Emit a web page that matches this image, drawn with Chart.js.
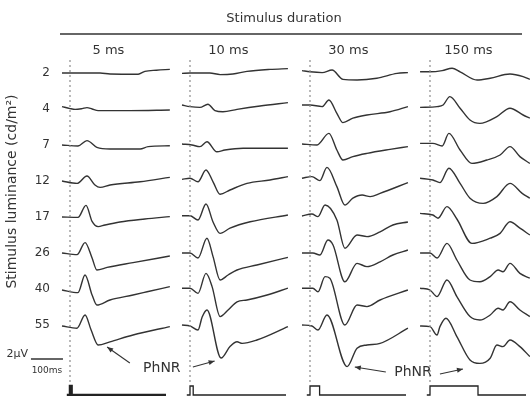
<!DOCTYPE html>
<html>
<head>
<meta charset="utf-8">
<title>ERG vs stimulus duration</title>
<script src="https://cdn.jsdelivr.net/npm/chart.js@4.4.1/dist/chart.umd.min.js"></script>
<style>
  html, body { margin: 0; padding: 0; background: #fff; }
  #wrap { width: 530px; height: 396px; }
</style>
</head>
<body>
<div id="wrap"><canvas id="erg"></canvas></div>
<script>
// columns: stimulus duration, rows: stimulus luminance (cd/m2)
const durations = ['5 ms', '10 ms', '30 ms', '150 ms'];
const durationMs = [5, 10, 30, 150];
const luminance = ['2', '4', '7', '12', '17', '26', '40', '55'];

// each trace is [time ms from flash onset, amplitude µV], one trace per luminance
const erg5ms = [
  [[-25,0],[94,0],[125,-0.25],[213,-0.3],[234,0.4],[270,0.7],[312,0.9]],
  [[-25,0.6],[0,0.1],[16,-0.1],[38,0.1],[53,0.35],[69,0],[88,-0.4],[188,-0.4],[312,-0.25]],
  [[-25,0],[25,-0.25],[53,1.1],[84,-0.6],[125,-1],[219,-1],[244,-0.4],[312,-0.2]],
  [[-25,0],[22,-0.6],[53,1.25],[78,-1],[94,-1.6],[125,-1],[219,-0.2],[312,0.9]],
  [[-25,0],[25,-0.1],[50,2.9],[69,-1.1],[88,-2.4],[109,-2],[156,-1.25],[234,-0.5],[312,0.1]],
  [[-25,0],[22,-0.4],[47,2.6],[69,-1.25],[84,-4.25],[116,-3.6],[197,-2.4],[312,-0.75]],
  [[-25,-0.25],[25,-0.9],[47,3.5],[69,-1.5],[84,-4],[125,-2.75],[197,-1.5],[241,-0.7],[312,0.6]],
  [[-25,-0.25],[22,-0.8],[47,2.5],[66,-1.25],[88,-5],[125,-4.2],[197,-2.5],[312,-0.4]]
];
const erg10ms = [
  [[-25,-0.1],[0,0],[62,0],[94,-0.4],[134,-0.25],[178,0.4],[250,0.9],[306,1.1]],
  [[-25,1],[0,0.6],[31,0.4],[56,1.2],[78,-0.4],[103,-0.7],[147,-0.1],[219,0.75],[306,1.6]],
  [[-25,0.25],[6,0],[31,-0.4],[53,0.8],[84,-1.7],[109,-1.25],[166,-0.8],[306,-0.8]],
  [[-25,0.4],[0,0.7],[25,-0.2],[50,2.75],[72,-0.2],[94,-3.3],[125,-2.25],[178,-0.6],[250,0.25],[306,1.1]],
  [[-25,0.3],[0,0.3],[25,-0.75],[50,3.25],[72,-1.25],[94,-4.1],[125,-2.8],[188,-1.2],[306,0.5]],
  [[-25,0],[0,0],[25,-1.25],[53,3.7],[72,-0.9],[94,-6.75],[119,-5.5],[147,-4.25],[209,-3],[306,-1.1]],
  [[-25,0.2],[0,0.2],[25,-1.1],[50,3.9],[69,0.6],[94,-6.9],[119,-5.25],[147,-3.2],[178,-2.75],[241,-1.5],[306,0.2]],
  [[-25,0],[0,-0.25],[25,-1.25],[38,2],[53,3.75],[97,-8.25],[125,-5.4],[147,-4.2],[163,-4.6],[209,-3.75],[306,-0.4]]
];
const erg30ms = [
  [[-25,0.6],[0,0.3],[38,0.1],[69,0.75],[103,-1.6],[147,-1.75],[209,-1.3],[272,-0.1],[306,0.1]],
  [[-25,1],[0,1],[38,0.6],[59,2.25],[84,-1.1],[103,-3.4],[134,-2.3],[178,-1.5],[250,-0.7],[306,0.6]],
  [[-25,0.25],[22,0],[59,2.9],[84,-1.25],[103,-3.75],[134,-2.9],[178,-2.1],[250,-1.1],[306,-0.4]],
  [[-25,0.7],[6,1.1],[31,0.1],[53,3.4],[84,-1.4],[109,-6],[134,-4.3],[163,-3.5],[188,-3.9],[219,-3.1],[306,-0.4]],
  [[-25,0.25],[6,0.75],[25,0.1],[47,3],[84,-0.75],[109,-7.8],[147,-4.5],[178,-4.9],[219,-3.7],[259,-2],[306,-1.25]],
  [[-25,0],[9,0],[31,-0.5],[56,3.25],[72,2],[109,-7.2],[147,-2.6],[178,-3.4],[219,-2.2],[259,-0.5],[306,0.75]],
  [[-25,0.2],[9,0.2],[25,-0.7],[47,3.1],[62,2.7],[109,-9],[147,-4],[178,-4.4],[219,-2.75],[306,-0.25]],
  [[-25,0],[6,-0.25],[25,-1.25],[53,2.5],[116,-10.4],[147,-5.8],[178,-5],[219,-4.6],[306,-0.8]]
];
const erg150ms = [
  [[-31,0.3],[0,0.3],[38,0.6],[69,1.2],[94,0.3],[147,-1.75],[188,-1.3],[250,-0.25],[291,-0.9],[312,-1.6]],
  [[-31,0.4],[22,0.6],[41,1],[62,3.1],[94,0.2],[125,-2.75],[156,-3.6],[209,-1.9],[250,0.2],[291,-1.5],[312,-2.3]],
  [[-31,0.4],[9,0.4],[38,-0.25],[59,2.9],[94,-1.25],[131,-4.6],[178,-3.75],[219,-2.5],[250,-0.4],[281,-2.9],[312,-4.6]],
  [[-31,0.7],[9,0.25],[31,-0.4],[59,3.2],[94,-0.6],[125,-4.3],[166,-5.6],[209,-3.9],[250,-0.6],[288,-3.1],[312,-4.3]],
  [[-31,0.9],[9,0.5],[25,-0.3],[53,2.6],[84,-0.5],[131,-6.6],[188,-5.3],[219,-4.1],[250,-1.2],[281,-2.8],[312,-4.5]],
  [[-31,0],[0,0],[22,-1.25],[53,2.4],[84,-1.75],[125,-6.75],[156,-7.2],[188,-5.9],[213,-4.25],[228,-4.7],[250,-2.6],[281,-5.1],[312,-6.3]],
  [[-31,0.2],[0,-0.25],[22,-1.9],[53,2.25],[84,-1.9],[125,-6.9],[156,-7.75],[188,-6.5],[213,-4.8],[228,-5.25],[250,-3.2],[281,-5.25],[312,-6.9]],
  [[-31,-0.25],[0,-0.4],[22,-2.5],[31,-0.4],[50,1.7],[84,-2.9],[125,-8.75],[156,-9.6],[188,-8.3],[209,-5],[228,-5.4],[250,-3.75],[281,-5.4],[312,-7.9]]
];

// calibration bar: 2 µV by 100 ms
const scaleBarUv = 2;
const scaleBarMs = 100;

// layout of the grid (in data units)
const COL_MS = 375;      // horizontal shift between duration columns
const ROW_UV = 9;        // vertical shift between luminance rows
const STIM_BASE = -80.5; // where the stimulus markers sit
const STIM_H = 2.25;
const FONT = 'DejaVu Sans';
const INK = '#333';

const columns = [erg5ms, erg10ms, erg30ms, erg150ms];
const datasets = [];

columns.forEach((traces, c) => {
  const x0 = c * COL_MS;
  // dotted line at flash onset
  datasets.push({
    data: [{x: x0, y: 3.25}, {x: x0, y: -78}],
    borderColor: '#8c8c8c', borderWidth: 1.2, borderDash: [2, 3], clip: false
  });
  traces.forEach((trace, r) => {
    datasets.push({
      data: trace.map(([t, v]) => ({x: x0 + t, y: v - r * ROW_UV})),
      borderColor: INK, borderWidth: 1.4,
      cubicInterpolationMode: 'monotone', clip: false
    });
  });
  // stimulus marker below the traces
  const d = durationMs[c];
  datasets.push({
    data: [[-10, 0], [0, 0], [0, 1], [d, 1], [d, 0], [300, 0]]
      .map(([t, on]) => ({x: x0 + t, y: STIM_BASE + on * STIM_H})),
    borderColor: '#222', borderWidth: c === 0 ? 2.5 : 1.3, clip: false
  });
});

// calibration bar
datasets.push({
  data: [
    {x: -122, y: -69.5},
    {x: -122, y: -69.5 - scaleBarUv},
    {x: -122 + scaleBarMs, y: -69.5 - scaleBarUv}
  ],
  borderColor: INK, borderWidth: 1.3, clip: false
});

// PhNR labels with their arrows [fromT, fromV, toT, toV]
const phnrNotes = [
  {t: 287, v: -73.75, arrows: [[187, -72.5, 116, -68.5], [384, -73.5, 452, -72]]},
  {t: 1072, v: -74.75, arrows: [[987, -74.75, 890, -73.5], [1156, -75.25, 1228, -74]]}
];

function arrow(ctx, x0, y0, x1, y1) {
  ctx.beginPath();
  ctx.moveTo(x0, y0);
  ctx.lineTo(x1, y1);
  ctx.stroke();
  const a = Math.atan2(y1 - y0, x1 - x0);
  const L = 6, W = 2.5;
  ctx.beginPath();
  ctx.moveTo(x1, y1);
  ctx.lineTo(x1 - L * Math.cos(a) + W * Math.sin(a), y1 - L * Math.sin(a) - W * Math.cos(a));
  ctx.lineTo(x1 - L * Math.cos(a) - W * Math.sin(a), y1 - L * Math.sin(a) + W * Math.cos(a));
  ctx.closePath();
  ctx.fill();
}

const notes = {
  id: 'notes',
  afterDatasetsDraw(chart) {
    const {ctx, scales: {x, y}} = chart;
    ctx.save();
    ctx.fillStyle = INK;
    ctx.strokeStyle = INK;

    // header + rule
    ctx.font = '13px "' + FONT + '"';
    ctx.textAlign = 'center';
    ctx.textBaseline = 'middle';
    ctx.fillText('Stimulus duration', 284, 19);
    ctx.lineWidth = 1.5;
    ctx.beginPath();
    ctx.moveTo(60, 34);
    ctx.lineTo(522, 34);
    ctx.stroke();

    // calibration labels
    ctx.font = '11px "' + FONT + '"';
    ctx.textAlign = 'right';
    ctx.fillText('2µV', x.getPixelForValue(-122) - 3, y.getPixelForValue(-70.2));
    ctx.font = '9px "' + FONT + '"';
    ctx.textAlign = 'center';
    ctx.fillText('100ms', x.getPixelForValue(-122 + scaleBarMs / 2), y.getPixelForValue(-74.5));

    // PhNR annotations
    ctx.font = '14px "' + FONT + '"';
    ctx.lineWidth = 1.1;
    phnrNotes.forEach(n => {
      ctx.fillText('PhNR', x.getPixelForValue(n.t), y.getPixelForValue(n.v));
      n.arrows.forEach(([t0, v0, t1, v1]) => {
        arrow(ctx, x.getPixelForValue(t0), y.getPixelForValue(v0),
          x.getPixelForValue(t1), y.getPixelForValue(v1));
      });
    });
    ctx.restore();
  }
};

new Chart(document.getElementById('erg'), {
  type: 'line',
  data: {datasets: datasets},
  plugins: [notes],
  options: {
    responsive: true,
    maintainAspectRatio: false,
    animation: false,
    layout: {padding: {left: 0, right: 0, top: 0, bottom: 71}},
    elements: {point: {radius: 0, hitRadius: 0}},
    plugins: {legend: {display: false}, tooltip: {enabled: false}},
    scales: {
      x: {
        type: 'linear',
        position: 'top',
        min: -37.5,
        max: 1437.5,
        grid: {display: false, drawTicks: false},
        border: {display: false},
        afterBuildTicks: (axis) => {
          axis.ticks = durations.map((d, i) => ({value: i * COL_MS + 120}));
        },
        afterFit: (axis) => { axis.height = 58; },
        ticks: {
          autoSkip: false, maxRotation: 0, padding: 0,
          color: INK, font: {family: FONT, size: 13},
          callback: (v, i) => durations[i]
        }
      },
      y: {
        type: 'linear',
        min: -63,
        max: 3.75,
        grid: {display: false, drawTicks: false},
        border: {display: false},
        afterBuildTicks: (axis) => {
          axis.ticks = luminance.map((l, i) => ({value: -i * ROW_UV}));
        },
        afterFit: (axis) => { axis.width = 58; },
        ticks: {
          autoSkip: false, padding: 8,
          color: INK, font: {family: FONT, size: 12},
          callback: (v, i) => luminance[i]
        },
        title: {
          display: true,
          text: 'Stimulus luminance (cd/m²)',
          color: INK,
          font: {family: FONT, size: 14},
          padding: {top: 4, bottom: 0}
        }
      }
    }
  }
});
</script>
</body>
</html>
